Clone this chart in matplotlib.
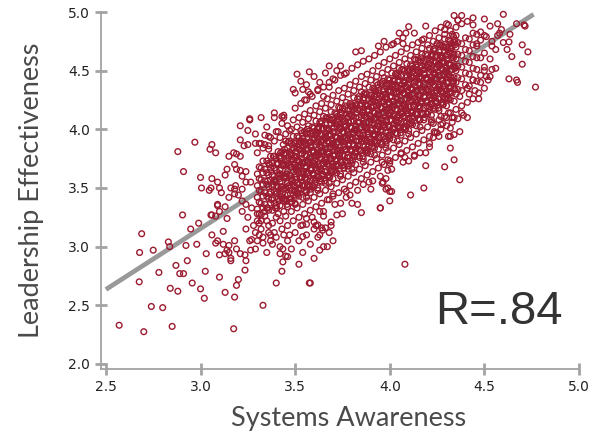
import matplotlib
matplotlib.use("Agg")
import matplotlib.pyplot as plt

# ---------------- data ----------------
x_ticks = [2.5, 3.0, 3.5, 4.0, 4.5, 5.0]
y_ticks = [2.0, 2.5, 3.0, 3.5, 4.0, 4.5, 5.0]
x_label = "Systems Awareness"
y_label = "Leadership Effectiveness"
r_text = "R=.84"

fit_x = [2.50, 4.76]
fit_y = [2.635, 4.98]

# dense core, given column by column (x of column, y values in that column)
core_x = [3.30, 3.31, 3.32, 3.33, 3.34, 3.35, 3.36, 3.37, 3.38, 3.39,
          3.40, 3.41, 3.42, 3.43, 3.44, 3.45, 3.46, 3.47, 3.48, 3.49,
          3.50, 3.51, 3.52, 3.53, 3.54, 3.55, 3.56, 3.57, 3.58, 3.59,
          3.60, 3.61, 3.62, 3.63, 3.64, 3.65, 3.66, 3.67, 3.68, 3.69,
          3.70, 3.71, 3.72, 3.73, 3.74, 3.75, 3.76, 3.77, 3.78, 3.79,
          3.80, 3.81, 3.82, 3.83, 3.84, 3.85, 3.86, 3.87, 3.88, 3.89,
          3.90, 3.91, 3.92, 3.93, 3.94, 3.95, 3.96, 3.97, 3.98, 3.99,
          4.00, 4.01, 4.02, 4.03, 4.04, 4.05, 4.06, 4.07, 4.08, 4.09,
          4.10, 4.11, 4.12, 4.13, 4.14, 4.15, 4.16, 4.17, 4.18, 4.19,
          4.20, 4.21, 4.22, 4.23, 4.24, 4.25, 4.26, 4.27, 4.28, 4.29,
          4.30, 4.31, 4.32, 4.33, 4.34, 4.35,
          4.36, 4.38, 4.40, 4.42, 4.44, 4.46, 4.48, 4.50]
core_y = [
    [3.22, 3.32, 3.42, 3.52, 3.62], [3.28, 3.38, 3.48, 3.58, 3.68],
    [3.27, 3.37, 3.47, 3.57, 3.67], [3.33, 3.43, 3.53, 3.63, 3.73],
    [3.26, 3.36, 3.46, 3.56, 3.66], [3.33, 3.43, 3.53, 3.63, 3.73],
    [3.31, 3.41, 3.51, 3.61, 3.71], [3.37, 3.47, 3.57, 3.67, 3.77],
    [3.31, 3.41, 3.51, 3.61, 3.71], [3.37, 3.47, 3.57, 3.67, 3.77],
    [3.35, 3.45, 3.55, 3.65, 3.75], [3.41, 3.51, 3.61, 3.71, 3.81],
    [3.35, 3.45, 3.55, 3.65, 3.75], [3.41, 3.51, 3.61, 3.71, 3.81],
    [3.39, 3.49, 3.59, 3.69, 3.79],
    [3.40, 3.50, 3.60, 3.70, 3.80, 3.90], [3.34, 3.44, 3.54, 3.64, 3.74, 3.84],
    [3.41, 3.50, 3.61, 3.70, 3.81, 3.90], [3.38, 3.48, 3.58, 3.68, 3.78, 3.88],
    [3.44, 3.54, 3.64, 3.74, 3.84, 3.94], [3.37, 3.48, 3.59, 3.68, 3.77, 3.88],
    [3.45, 3.54, 3.65, 3.74, 3.85, 3.94], [3.43, 3.53, 3.63, 3.73, 3.83, 3.93],
    [3.49, 3.59, 3.69, 3.79, 3.89, 3.99], [3.42, 3.52, 3.62, 3.72, 3.82, 3.92],
    [3.48, 3.58, 3.68, 3.78, 3.88, 3.98], [3.47, 3.57, 3.67, 3.77, 3.87, 3.97],
    [3.53, 3.63, 3.73, 3.83, 3.93, 4.03], [3.46, 3.56, 3.66, 3.76, 3.86, 3.96],
    [3.52, 3.62, 3.72, 3.82, 3.92, 4.02], [3.51, 3.61, 3.71, 3.81, 3.91, 4.01],
    [3.57, 3.67, 3.77, 3.87, 3.97, 4.07], [3.50, 3.60, 3.70, 3.80, 3.90, 4.00],
    [3.56, 3.66, 3.76, 3.86, 3.96, 4.06], [3.55, 3.65, 3.75, 3.85, 3.95, 4.05],
    [3.61, 3.71, 3.81, 3.91, 4.01, 4.11], [3.54, 3.64, 3.74, 3.84, 3.94, 4.04],
    [3.60, 3.70, 3.80, 3.90, 4.00, 4.10], [3.59, 3.69, 3.79, 3.89, 3.99, 4.09],
    [3.65, 3.75, 3.85, 3.95, 4.05, 4.15], [3.58, 3.68, 3.78, 3.88, 3.98, 4.08],
    [3.65, 3.74, 3.85, 3.94, 4.05, 4.14], [3.63, 3.73, 3.83, 3.93, 4.03, 4.13],
    [3.69, 3.79, 3.89, 3.99, 4.09, 4.19], [3.62, 3.72, 3.82, 3.92, 4.02, 4.12],
    [3.69, 3.78, 3.89, 3.98, 4.09, 4.18], [3.67, 3.77, 3.87, 3.97, 4.07, 4.17],
    [3.73, 3.83, 3.93, 4.03, 4.13, 4.23], [3.66, 3.76, 3.86, 3.96, 4.06, 4.16],
    [3.73, 3.82, 3.93, 4.02, 4.13, 4.22], [3.71, 3.81, 3.91, 4.01, 4.11, 4.21],
    [3.77, 3.87, 3.97, 4.07, 4.17, 4.27], [3.70, 3.80, 3.90, 4.00, 4.10, 4.20],
    [3.77, 3.86, 3.97, 4.06, 4.17, 4.26], [3.76, 3.86, 3.96, 4.06, 4.16, 4.26],
    [3.82, 3.92, 4.02, 4.12, 4.22, 4.32], [3.75, 3.85, 3.95, 4.05, 4.15, 4.25],
    [3.81, 3.91, 4.01, 4.11, 4.21, 4.31], [3.80, 3.90, 4.00, 4.10, 4.20, 4.30],
    [3.86, 3.96, 4.06, 4.16, 4.26, 4.36], [3.79, 3.89, 3.99, 4.09, 4.19, 4.29],
    [3.85, 3.95, 4.05, 4.15, 4.25, 4.35], [3.84, 3.94, 4.04, 4.14, 4.24, 4.34],
    [3.90, 4.00, 4.10, 4.20, 4.30, 4.40], [3.83, 3.93, 4.03, 4.13, 4.23, 4.33],
    [3.89, 3.99, 4.09, 4.19, 4.29, 4.39], [3.88, 3.98, 4.08, 4.18, 4.28, 4.38],
    [3.94, 4.04, 4.14, 4.24, 4.34, 4.44], [3.87, 3.97, 4.07, 4.17, 4.27, 4.37],
    [3.93, 4.03, 4.13, 4.23, 4.33, 4.43], [3.92, 4.02, 4.12, 4.22, 4.32, 4.42],
    [3.98, 4.08, 4.18, 4.28, 4.38, 4.48], [3.91, 4.01, 4.11, 4.21, 4.31, 4.41],
    [3.97, 4.07, 4.17, 4.27, 4.37, 4.47], [3.96, 4.06, 4.16, 4.26, 4.36, 4.46],
    [4.02, 4.12, 4.22, 4.32, 4.42, 4.52], [3.95, 4.05, 4.15, 4.25, 4.35, 4.45],
    [4.01, 4.11, 4.21, 4.31, 4.41, 4.51], [4.00, 4.10, 4.20, 4.30, 4.40, 4.50],
    [4.06, 4.16, 4.26, 4.36, 4.46, 4.56], [3.99, 4.09, 4.19, 4.29, 4.39, 4.49],
    [4.05, 4.15, 4.25, 4.35, 4.45, 4.55], [4.04, 4.14, 4.24, 4.34, 4.44, 4.54],
    [4.10, 4.20, 4.30, 4.40, 4.50, 4.60], [4.03, 4.13, 4.23, 4.33, 4.43, 4.53],
    [4.09, 4.19, 4.29, 4.39, 4.49, 4.59], [4.08, 4.18, 4.28, 4.38, 4.48, 4.58],
    [4.14, 4.24, 4.34, 4.44, 4.54, 4.64], [4.08, 4.18, 4.28, 4.38, 4.48, 4.58],
    [4.14, 4.24, 4.34, 4.44, 4.54, 4.64], [4.13, 4.23, 4.33, 4.43, 4.53, 4.63],
    [4.19, 4.29, 4.39, 4.49, 4.59, 4.69], [4.12, 4.22, 4.32, 4.42, 4.52, 4.62],
    [4.18, 4.28, 4.38, 4.48, 4.58, 4.68], [4.17, 4.27, 4.37, 4.47, 4.57, 4.67],
    [4.23, 4.33, 4.43, 4.53, 4.63, 4.73], [4.16, 4.26, 4.36, 4.46, 4.56, 4.66],
    [4.22, 4.32, 4.42, 4.52, 4.62, 4.72], [4.21, 4.31, 4.41, 4.51, 4.61, 4.71],
    [4.27, 4.37, 4.47, 4.57, 4.67, 4.77], [4.20, 4.30, 4.40, 4.50, 4.60, 4.70],
    [4.26, 4.36, 4.46, 4.56, 4.66, 4.76], [4.25, 4.35, 4.45, 4.55, 4.65, 4.75],
    [4.31, 4.41, 4.51, 4.61, 4.71, 4.81], [4.24, 4.34, 4.44, 4.54, 4.64, 4.74],
    [4.30, 4.40, 4.50, 4.60, 4.70, 4.80],
    [4.34, 4.44, 4.54, 4.64, 4.74], [4.33, 4.43, 4.53, 4.63, 4.73],
    [4.38, 4.48, 4.58, 4.68, 4.78], [4.37, 4.47, 4.57, 4.67, 4.77],
    [4.42, 4.52, 4.62, 4.72, 4.82], [4.41, 4.51, 4.61, 4.71, 4.81],
    [4.46, 4.61, 4.76], [4.50, 4.65, 4.80],
]

# extra points filling the gaps of the core (x, lower y, upper y)
fill_x = [3.355, 3.365, 3.375, 3.385, 3.395, 3.405, 3.415, 3.425, 3.435, 3.445,
          3.455, 3.465, 3.475, 3.485, 3.495, 3.505, 3.515, 3.525, 3.535, 3.545,
          3.555, 3.565, 3.575, 3.585, 3.595, 3.605, 3.615, 3.625, 3.635, 3.645,
          3.655, 3.665, 3.675, 3.685, 3.695, 3.705, 3.715, 3.725, 3.735, 3.745,
          3.755, 3.765, 3.775, 3.785, 3.795, 3.805, 3.815, 3.825, 3.835, 3.845,
          3.855, 3.865, 3.875, 3.885, 3.895, 3.905, 3.915, 3.925, 3.935, 3.945,
          3.955, 3.965, 3.975, 3.985, 3.995, 4.005, 4.015, 4.025, 4.035, 4.045,
          4.055, 4.065, 4.075, 4.085, 4.095, 4.105, 4.115, 4.125, 4.135, 4.145,
          4.155, 4.165, 4.175, 4.185, 4.195, 4.205, 4.215, 4.225, 4.235, 4.245,
          4.255, 4.265, 4.275, 4.285, 4.295, 4.305, 4.315, 4.325, 4.335, 4.345]
fill_y1 = [3.33, 3.45, 3.40, 3.53, 3.33, 3.70, 3.39, 3.51, 3.46, 3.59,
           3.39, 3.76, 3.45, 3.57, 3.52, 3.66, 3.46, 3.83, 3.52, 3.64,
           3.59, 3.72, 3.52, 3.89, 3.58, 3.70, 3.65, 3.78, 3.58, 3.95,
           3.64, 3.76, 3.71, 3.84, 3.64, 4.01, 3.70, 3.82, 3.77, 3.90,
           3.70, 4.07, 3.76, 3.88, 3.83, 3.96, 3.77, 4.14, 3.83, 3.95,
           3.90, 4.03, 3.83, 4.20, 3.89, 4.01, 3.96, 4.09, 3.89, 4.26,
           3.95, 4.07, 4.02, 4.15, 3.95, 4.32, 4.01, 4.13, 4.08, 4.21,
           4.01, 4.38, 4.07, 4.19, 4.14, 4.27, 4.07, 4.44, 4.13, 4.25,
           4.20, 4.33, 4.13, 4.51, 4.20, 4.32, 4.27, 4.40, 4.20, 4.57,
           4.26, 4.38, 4.33, 4.46, 4.26, 4.63, 4.32, 4.44, 4.39, 4.52]
fill_y2 = [3.56, 3.70, 3.64, 3.77, 3.56, 3.46, 3.62, 3.76, 3.70, 3.83,
           3.62, 3.52, 3.68, 3.82, 3.76, 3.90, 3.69, 3.59, 3.75, 3.89,
           3.83, 3.96, 3.75, 3.65, 3.81, 3.95, 3.89, 4.02, 3.81, 3.71,
           3.87, 4.01, 3.95, 4.08, 3.87, 3.77, 3.93, 4.07, 4.01, 4.14,
           3.93, 3.83, 3.99, 4.13, 4.07, 4.20, 4.00, 3.90, 4.06, 4.20,
           4.14, 4.27, 4.06, 3.96, 4.12, 4.26, 4.20, 4.33, 4.12, 4.02,
           4.18, 4.32, 4.26, 4.39, 4.18, 4.08, 4.24, 4.38, 4.32, 4.45,
           4.24, 4.14, 4.31, 4.44, 4.38, 4.51, 4.30, 4.20, 4.37, 4.50,
           4.44, 4.57, 4.36, 4.27, 4.43, 4.56, 4.51, 4.64, 4.43, 4.33,
           4.49, 4.63, 4.57, 4.70, 4.49, 4.39, 4.55, 4.69, 4.63, 4.76]

# second and third filling layers (x, three y values each)
fill2_x = [3.403, 3.423, 3.443, 3.463, 3.483, 3.503, 3.523, 3.543, 3.563, 3.583,
           3.603, 3.623, 3.643, 3.663, 3.683, 3.703, 3.723, 3.743, 3.763, 3.783,
           3.803, 3.823, 3.843, 3.863, 3.883, 3.903, 3.923, 3.943, 3.963, 3.983,
           4.003, 4.023, 4.043, 4.063, 4.083, 4.103, 4.123, 4.143, 4.163, 4.183,
           4.203, 4.223, 4.243, 4.263, 4.283, 4.303, 4.323, 4.343]
fill2_a = [3.33, 3.43, 3.41, 3.51, 3.38, 3.43, 3.53, 3.52, 3.62, 3.49,
           3.54, 3.64, 3.62, 3.72, 3.59, 3.64, 3.74, 3.72, 3.82, 3.69,
           3.74, 3.84, 3.82, 3.92, 3.80, 3.85, 3.95, 3.93, 4.03, 3.90,
           3.95, 4.05, 4.03, 4.13, 4.00, 4.05, 4.15, 4.13, 4.23, 4.10,
           4.15, 4.26, 4.24, 4.34, 4.21, 4.26, 4.36, 4.34]
fill2_b = [3.52, 3.62, 3.60, 3.71, 3.56, 3.62, 3.72, 3.71, 3.82, 3.67,
           3.73, 3.83, 3.81, 3.92, 3.77, 3.83, 3.93, 3.91, 4.02, 3.87,
           3.93, 4.03, 4.01, 4.12, 3.98, 4.04, 4.14, 4.12, 4.23, 4.08,
           4.14, 4.24, 4.22, 4.33, 4.18, 4.24, 4.34, 4.32, 4.43, 4.28,
           4.34, 4.45, 4.43, 4.54, 4.39, 4.45, 4.55, 4.53]
fill2_c = [3.71, 3.80, 3.79, 3.89, 3.75, 3.81, 3.90, 3.90, 4.00, 3.86,
           3.92, 4.01, 4.00, 4.10, 3.96, 4.02, 4.11, 4.10, 4.20, 4.06,
           4.12, 4.21, 4.20, 4.30, 4.17, 4.23, 4.32, 4.31, 4.41, 4.27,
           4.33, 4.42, 4.41, 4.51, 4.37, 4.43, 4.52, 4.51, 4.61, 4.47,
           4.53, 4.63, 4.62, 4.72, 4.58, 4.64, 4.73, 4.72]

fill3_x = [3.417, 3.437, 3.457, 3.477, 3.497, 3.517, 3.537, 3.557, 3.577, 3.597,
           3.617, 3.637, 3.657, 3.677, 3.697, 3.717, 3.737, 3.757, 3.777, 3.797,
           3.817, 3.837, 3.857, 3.877, 3.897, 3.917, 3.937, 3.957, 3.977, 3.997,
           4.017, 4.037, 4.057, 4.077, 4.097, 4.117, 4.137, 4.157, 4.177, 4.197,
           4.217, 4.237, 4.257, 4.277, 4.297, 4.317, 4.337]
fill3_a = [3.39, 3.49, 3.36, 3.41, 3.51, 3.49, 3.59, 3.46, 3.51, 3.61,
           3.59, 3.69, 3.56, 3.61, 3.71, 3.69, 3.80, 3.67, 3.72, 3.82,
           3.80, 3.90, 3.77, 3.82, 3.92, 3.90, 4.00, 3.87, 3.92, 4.02,
           4.00, 4.10, 3.97, 4.02, 4.13, 4.11, 4.21, 4.08, 4.13, 4.23,
           4.21, 4.31, 4.18, 4.23, 4.33, 4.31, 4.41]
fill3_b = [3.58, 3.69, 3.54, 3.60, 3.70, 3.68, 3.79, 3.64, 3.70, 3.80,
           3.78, 3.89, 3.74, 3.80, 3.90, 3.88, 4.00, 3.85, 3.91, 4.01,
           3.99, 4.10, 3.95, 4.01, 4.11, 4.09, 4.20, 4.05, 4.11, 4.21,
           4.19, 4.30, 4.15, 4.21, 4.32, 4.30, 4.41, 4.26, 4.32, 4.42,
           4.40, 4.51, 4.36, 4.42, 4.52, 4.50, 4.61]
fill3_c = [3.77, 3.87, 3.73, 3.79, 3.88, 3.87, 3.97, 3.83, 3.89, 3.98,
           3.97, 4.07, 3.93, 3.99, 4.08, 4.07, 4.18, 4.04, 4.10, 4.19,
           4.18, 4.28, 4.14, 4.20, 4.29, 4.28, 4.38, 4.24, 4.30, 4.39,
           4.38, 4.48, 4.34, 4.40, 4.50, 4.49, 4.59, 4.45, 4.51, 4.60,
           4.59, 4.69, 4.55, 4.61, 4.70, 4.69, 4.79]

# medium-density fringe around the core
halo = [
    (3.30, 3.80), (3.31, 3.88), (3.29, 3.12), (3.30, 3.05), (3.31, 3.20),
    (3.33, 3.84), (3.34, 3.95), (3.32, 3.15), (3.33, 3.08),
    (3.36, 3.86), (3.37, 3.93), (3.35, 4.02), (3.36, 3.18), (3.37, 3.10), (3.35, 3.22),
    (3.39, 3.90), (3.40, 3.98), (3.38, 3.20), (3.39, 3.12), (3.40, 3.25),
    (3.42, 3.93), (3.43, 4.05), (3.41, 3.98), (3.42, 3.22), (3.43, 3.15), (3.41, 3.28),
    (3.45, 3.96), (3.46, 4.03), (3.44, 4.12), (3.45, 3.26), (3.46, 3.18), (3.44, 3.30),
    (3.48, 4.00), (3.49, 4.08), (3.47, 3.99), (3.48, 3.30), (3.49, 3.22), (3.47, 3.10),
    (3.51, 4.02), (3.52, 4.10), (3.50, 4.18), (3.51, 3.33), (3.52, 3.25), (3.50, 3.36),
    (3.54, 4.06), (3.55, 4.13), (3.53, 4.22), (3.54, 3.36), (3.55, 3.28), (3.53, 3.18),
    (3.57, 4.09), (3.58, 4.16), (3.56, 4.25), (3.57, 4.32), (3.57, 3.39), (3.58, 3.31), (3.56, 3.42),
    (3.60, 4.12), (3.61, 4.20), (3.59, 4.28), (3.60, 3.42), (3.61, 3.34), (3.59, 3.25),
    (3.63, 4.15), (3.64, 4.22), (3.62, 4.34), (3.63, 3.45), (3.64, 3.37), (3.62, 3.48),
    (3.66, 4.18), (3.67, 4.26), (3.65, 4.36), (3.66, 3.48), (3.67, 3.40), (3.65, 3.30),
    (3.69, 4.21), (3.70, 4.29), (3.68, 4.40), (3.69, 3.51), (3.70, 3.43), (3.68, 3.54),
    (3.72, 4.24), (3.73, 4.33), (3.71, 4.42), (3.72, 3.54), (3.73, 3.46), (3.71, 3.36),
    (3.75, 4.27), (3.76, 4.35), (3.74, 4.46), (3.75, 3.57), (3.76, 3.49), (3.74, 3.60),
    (3.78, 4.30), (3.79, 4.38), (3.77, 4.48), (3.78, 3.60), (3.79, 3.52), (3.77, 3.42),
    (3.81, 4.33), (3.82, 4.41), (3.80, 4.52), (3.81, 3.63), (3.82, 3.55), (3.80, 3.66),
    (3.84, 4.36), (3.85, 4.45), (3.83, 4.55), (3.84, 3.66), (3.85, 3.58), (3.83, 3.48),
    (3.87, 4.39), (3.88, 4.47), (3.86, 4.58), (3.87, 3.69), (3.88, 3.61), (3.86, 3.72),
    (3.90, 4.42), (3.91, 4.50), (3.89, 4.60), (3.90, 3.72), (3.91, 3.64), (3.89, 3.55),
    (3.93, 4.45), (3.94, 4.54), (3.92, 4.63), (3.93, 3.75), (3.94, 3.67), (3.92, 3.78),
    (3.96, 4.48), (3.97, 4.57), (3.95, 4.66), (3.96, 3.78), (3.97, 3.70), (3.95, 3.60),
    (3.99, 4.51), (4.00, 4.60), (3.98, 4.70), (3.99, 3.81), (4.00, 3.73), (3.98, 3.84),
    (4.02, 4.54), (4.03, 4.63), (4.01, 4.72), (4.02, 3.84), (4.03, 3.76), (4.01, 3.66),
    (4.05, 4.57), (4.06, 4.66), (4.04, 4.75), (4.05, 3.87), (4.06, 3.79), (4.04, 3.90),
    (4.08, 4.60), (4.09, 4.69), (4.07, 4.78), (4.08, 3.90), (4.09, 3.82), (4.07, 3.72),
    (4.11, 4.63), (4.12, 4.72), (4.11, 3.93), (4.12, 3.85), (4.10, 3.96),
    (4.14, 4.66), (4.15, 4.74), (4.13, 4.82), (4.14, 3.96), (4.15, 3.88), (4.13, 3.78),
    (4.17, 4.69), (4.18, 4.77), (4.17, 3.99), (4.18, 3.91), (4.16, 4.02),
    (4.20, 4.72), (4.21, 4.80), (4.20, 4.02), (4.21, 3.94),
    (4.23, 4.75), (4.24, 4.84), (4.23, 4.05), (4.24, 3.97), (4.22, 4.08),
    (4.26, 4.78), (4.27, 4.87), (4.26, 4.08), (4.27, 4.00),
    (4.29, 4.81), (4.30, 4.90), (4.29, 4.11), (4.30, 4.03),
    (4.32, 4.84), (4.32, 4.14), (4.33, 4.06),
    (4.35, 4.87), (4.36, 4.93), (4.35, 4.17), (4.36, 4.09),
    (4.38, 4.90), (4.38, 4.20), (4.39, 4.12),
    (4.41, 4.92), (4.41, 4.23), (4.42, 4.30),
    (4.44, 4.95), (4.44, 4.26), (4.45, 4.33),
    (4.47, 4.31), (4.48, 4.40),
    (4.50, 4.35), (4.51, 4.45), (4.50, 4.94),
    (4.53, 4.45), (4.53, 4.60), (4.54, 4.75), (4.53, 4.88),
    (4.56, 4.52), (4.56, 4.68), (4.57, 4.80),
]

lower_left = [
    (2.905, 3.27), (2.689, 3.11), (2.948, 3.15), (2.99, 3.20), (2.83, 3.04),
    (2.837, 3.00), (2.923, 3.01), (2.98, 3.02), (2.678, 2.95), (2.75, 2.97),
    (3.03, 2.94), (2.87, 2.84), (2.93, 2.88), (2.78, 2.78), (2.89, 2.77),
    (2.91, 2.77), (3.025, 2.79), (2.676, 2.70), (2.956, 2.69), (2.84, 2.645),
    (2.88, 2.62), (3.00, 2.64), (3.02, 2.56), (2.74, 2.49), (2.80, 2.48),
    (2.57, 2.33), (2.70, 2.275), (2.85, 2.32), (3.055, 3.27),
]

mid_left = [
    (3.09, 3.35), (3.06, 3.27), (3.08, 3.26), (3.14, 3.24), (3.10, 3.30),
    (3.12, 3.13), (3.06, 3.10), (3.08, 3.03), (3.09, 3.05), (3.12, 3.02),
    (3.15, 3.01), (3.14, 2.97), (3.15, 2.95), (3.10, 2.93), (3.13, 2.94),
    (3.16, 2.88), (3.16, 2.90), (3.18, 3.05), (3.19, 2.98), (3.21, 2.94),
    (3.235, 2.93), (3.24, 2.88), (3.265, 2.97), (3.27, 3.06), (3.235, 2.80),
    (3.10, 2.74), (3.20, 2.72), (3.19, 2.67), (3.13, 2.61), (3.18, 2.57),
    (3.33, 2.50), (3.175, 2.30), (3.40, 2.69), (3.43, 2.79), (3.435, 2.87),
    (3.46, 2.915), (3.42, 2.94), (3.435, 2.98), (3.575, 2.69),
    (3.22, 3.30), (3.25, 3.25), (3.27, 3.33), (3.30, 3.28), (3.28, 3.18),
    (3.32, 3.22), (3.34, 3.30), (3.36, 3.12), (3.31, 3.10), (3.38, 3.02),
    (3.40, 3.08), (3.42, 3.00), (3.44, 3.10), (3.46, 3.05), (3.48, 2.98),
    (3.50, 3.12), (3.52, 3.05), (3.54, 2.95), (3.56, 3.10), (3.58, 3.02),
    (3.60, 3.15), (3.62, 3.08), (3.35, 2.95), (3.37, 3.05), (3.45, 2.92),
    (3.52, 2.85), (3.60, 2.90), (3.65, 3.00), (3.68, 3.12), (3.70, 3.05),
    (3.24, 3.15), (3.26, 3.05), (3.29, 2.98), (3.33, 3.03),
]

upper_left = [
    (2.88, 3.81), (2.91, 3.64), (2.97, 3.89), (3.06, 3.87), (3.05, 3.83),
    (3.08, 3.80), (3.00, 3.59), (3.005, 3.50), (3.06, 3.58), (3.055, 3.50),
    (3.046, 3.48), (3.09, 3.55), (3.10, 3.50), (3.11, 3.46), (3.13, 3.61),
    (3.14, 3.66), (3.15, 3.77), (3.175, 3.80), (3.19, 3.79), (3.21, 3.77),
    (3.21, 4.03), (3.25, 3.99), (3.26, 4.08), (3.32, 4.10), (3.21, 3.91),
    (3.23, 3.86), (3.25, 3.87), (3.29, 3.96), (3.29, 3.88), (3.32, 3.88),
    (3.34, 3.87), (3.36, 3.94), (3.36, 3.83), (3.39, 4.14), (3.39, 4.10),
    (3.44, 4.10), (3.18, 3.70), (3.19, 3.66), (3.21, 3.65), (3.24, 3.64),
    (3.22, 3.60), (3.185, 3.52), (3.18, 3.49), (3.16, 3.50), (3.18, 3.45),
    (3.15, 3.42), (3.20, 3.44), (3.22, 3.39), (3.24, 3.36), (3.09, 3.36),
    (3.13, 3.34), (3.24, 3.55), (3.265, 3.55), (3.22, 3.49), (3.51, 4.47),
    (3.49, 4.34), (3.50, 4.31), (3.43, 4.11), (3.26, 4.09),
]

lower_right = [
    (4.38, 4.14), (4.41, 4.10), (4.32, 4.01), (4.37, 3.98), (4.34, 3.955),
    (4.31, 3.94), (4.32, 3.84), (4.34, 3.74), (4.29, 3.68), (4.19, 3.69),
    (4.37, 3.57), (4.18, 3.50), (4.11, 3.44), (4.01, 3.47), (4.00, 3.39),
    (3.98, 3.49), (3.95, 3.33), (4.08, 2.85), (4.21, 3.88), (4.21, 3.85),
    (4.19, 3.80), (4.16, 3.80), (4.13, 3.77), (4.10, 3.73), (4.08, 3.76),
    (4.06, 3.80), (4.26, 3.94), (4.235, 3.98), (4.23, 3.93), (4.27, 4.11),
    (4.30, 4.10), (4.33, 4.10), (4.22, 4.06), (4.27, 4.04), (3.99, 3.65),
    (3.98, 3.58), (3.965, 3.55), (4.00, 3.71), (3.99, 3.74), (3.96, 3.72),
    (3.85, 3.29), (3.54, 3.085), (3.63, 3.10), (3.63, 2.97), (3.67, 3.00),
    (3.58, 2.69), (3.69, 3.18), (3.64, 3.16), (3.645, 3.14), (3.56, 3.19),
    (3.61, 3.18), (4.54, 4.51), (4.52, 4.42), (4.47, 4.26), (4.50, 4.53),
    (4.44, 4.42), (4.41, 4.35), (4.37, 4.28), (4.34, 4.10), (4.31, 4.14),
    (4.28, 4.05), (4.32, 3.94), (4.25, 3.97),
    (3.86, 3.53), (3.90, 3.49), (3.91, 3.56), (3.96, 3.54), (3.99, 3.50),
    (4.00, 3.47), (3.95, 3.33), (3.80, 3.37), (3.83, 3.36), (3.79, 3.44),
    (3.77, 3.47), (3.70, 3.45), (3.68, 3.40), (3.74, 3.37), (3.63, 3.30),
    (3.65, 3.26), (3.69, 3.21), (3.72, 3.27), (3.75, 3.28), (3.60, 3.21),
    (3.62, 3.185), (3.56, 3.24), (3.54, 3.185), (3.66, 3.16),
]

upper_right = [
    (4.60, 4.98), (4.67, 4.90), (4.71, 4.89), (4.715, 4.88), (4.57, 4.90),
    (4.59, 4.85), (4.635, 4.81), (4.63, 4.745), (4.60, 4.74), (4.62, 4.68),
    (4.645, 4.62), (4.73, 4.66), (4.70, 4.72), (4.70, 4.555), (4.63, 4.43),
    (4.67, 4.42), (4.675, 4.40), (4.77, 4.36), (4.34, 4.97), (4.38, 4.97),
    (4.29, 4.85), (4.31, 4.89), (4.36, 4.93), (4.19, 4.88), (4.10, 4.875),
    (4.05, 4.82), (4.085, 4.82), (3.94, 4.71), (3.82, 4.66), (3.85, 4.67),
    (3.68, 4.54), (3.74, 4.54), (3.575, 4.49), (3.53, 4.41), (3.54, 4.34),
    (3.56, 4.38), (3.60, 4.45), (3.63, 4.40), (3.66, 4.48), (3.70, 4.43),
    (3.72, 4.50), (3.76, 4.47), (3.58, 4.30), (3.62, 4.33), (3.65, 4.28),
    (3.55, 4.25), (3.68, 4.36), (3.97, 4.75), (4.02, 4.73), (4.07, 4.73),
    (4.17, 4.76), (4.44, 4.89), (4.48, 4.83), (4.51, 4.79), (4.46, 4.73),
    (4.54, 4.71), (4.58, 4.82),
]

# ---------------- assemble ----------------
pts_x, pts_y = [], []
for cx, ys in zip(core_x, core_y):
    for yv in ys:
        pts_x.append(cx)
        pts_y.append(yv)
for fx, fa, fb in zip(fill_x, fill_y1, fill_y2):
    pts_x += [fx, fx]
    pts_y += [fa, fb]
for fx, fa, fb, fc in zip(fill2_x, fill2_a, fill2_b, fill2_c):
    pts_x += [fx, fx, fx]
    pts_y += [fa, fb, fc]
for fx, fa, fb, fc in zip(fill3_x, fill3_a, fill3_b, fill3_c):
    pts_x += [fx, fx, fx]
    pts_y += [fa, fb, fc]
for group in (halo, lower_left, mid_left, upper_left, lower_right, upper_right):
    for px, py in group:
        pts_x.append(px)
        pts_y.append(py)

# ---------------- draw ----------------
fig = plt.figure(figsize=(6.1, 4.38), dpi=100)
ax = fig.add_axes([101 / 610, 69 / 438, 478 / 610, 357 / 438])
ax.set_xlim(2.474, 5.0)
ax.set_ylim(1.957, 5.0)

spine_col = "#a3a3a3"
for s in ("top", "right"):
    ax.spines[s].set_visible(False)
for s in ("left", "bottom"):
    ax.spines[s].set_color(spine_col)
    ax.spines[s].set_linewidth(1.3)

ax.set_xticks(x_ticks)
ax.set_yticks(y_ticks)
ax.set_xticklabels([f"{v:.1f}" for v in x_ticks])
ax.set_yticklabels([f"{v:.1f}" for v in y_ticks])
ax.tick_params(direction="inout", length=8, width=2, color=spine_col,
               labelsize=10, labelcolor="#222222", pad=4)
for lab in ax.get_xticklabels() + ax.get_yticklabels():
    lab.set_family("DejaVu Sans")

ax.plot(fit_x, fit_y, color="#999999", lw=3.4, solid_capstyle="butt", zorder=1)
ax.scatter(pts_x, pts_y, s=17, facecolors="none", edgecolors="#9b1b30",
           linewidths=1.0, zorder=2, clip_on=False)

lab_font = dict(family=["Lato", "DejaVu Sans"], weight="normal", size=19.5, color="#4a4a4a")
ax.set_xlabel(x_label, **lab_font)
ax.set_ylabel(y_label, **lab_font)
ax.xaxis.set_label_coords(0.517, -0.105)
ax.yaxis.set_label_coords(-0.12, 0.5)

ax.text(4.239, 2.34, r_text, family=["Liberation Sans", "DejaVu Sans"], size=34,
        color="#333333", ha="left", va="baseline")

fig.savefig("out.png", dpi=100)
